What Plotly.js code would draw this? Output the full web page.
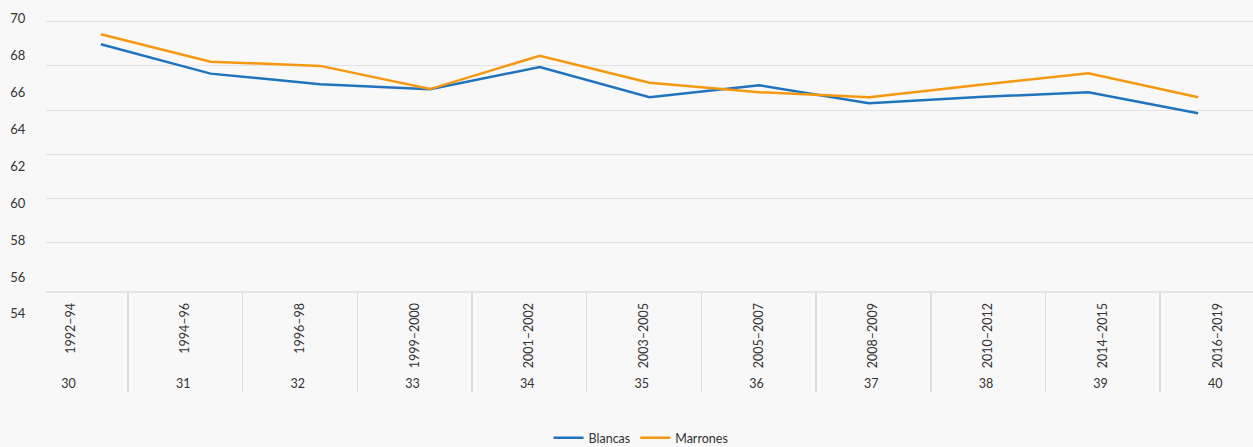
<!DOCTYPE html>
<html>
<head>
<meta charset="utf-8">
<script src="https://cdn.plot.ly/plotly-3.0.1.min.js"></script>
<style>
  html, body { margin: 0; padding: 0; background: #f8f8f8; }
  #chart { width: 1253px; height: 447px; }
</style>
</head>
<body>
<div id="chart"></div>
<script>
// Categories (inner level: periods, outer level: codes)
const periods = ['1992–94', '1994–96', '1996–98', '1999–2000', '2001–2002', '2003–2005', '2005–2007', '2008–2009', '2010–2012', '2014–2015', '2016–2019'];
const codes = ['30', '31', '32', '33', '34', '35', '36', '37', '38', '39', '40'];

// Series values
const blancas = [68.98, 67.65, 67.17, 66.94, 67.95, 66.58, 67.12, 66.31, 66.59, 66.81, 65.86];
const marrones = [69.43, 68.19, 68.00, 66.95, 68.46, 67.24, 66.81, 66.58, 67.14, 67.67, 66.58];

// Y tick labels
const yTickLabels = [54, 56, 58, 60, 62, 64, 66, 68, 70];
const gridVals = [60, 62, 64, 66, 68, 70];

const FONT = 'Lato, "Open Sans", sans-serif';
const TEXT = '#333333';
const BG = '#f8f8f8';

const traces = [
  {
    type: 'scatter', mode: 'lines', name: 'Blancas',
    x: periods, y: blancas, xaxis: 'x', yaxis: 'y',
    line: { color: '#1f74bd', width: 2.5 }, hoverinfo: 'x+y+name'
  },
  {
    type: 'scatter', mode: 'lines', name: 'Marrones',
    x: periods, y: marrones, xaxis: 'x', yaxis: 'y',
    line: { color: '#f5980f', width: 2.5 }, hoverinfo: 'x+y+name'
  },
  {
    // carrier for the two-level category axis
    type: 'scatter', mode: 'lines', name: 'cat', showlegend: false,
    x: [codes, periods], y: blancas, xaxis: 'x2', yaxis: 'y',
    line: { width: 0, color: 'rgba(0,0,0,0)' }, opacity: 0, hoverinfo: 'skip'
  },
  {
    // carrier for the label y axis
    type: 'scatter', mode: 'lines', name: 'ylab', showlegend: false,
    x: periods, y: blancas, xaxis: 'x', yaxis: 'y2',
    line: { width: 0, color: 'rgba(0,0,0,0)' }, opacity: 0, hoverinfo: 'skip'
  }
];

const layout = {
  width: 1253, height: 447,
  paper_bgcolor: BG, plot_bgcolor: 'rgba(0,0,0,0)',
  margin: { l: 46, r: 0, t: 0, b: 47, autoexpand: false },
  font: { family: FONT, size: 13, color: TEXT },
  showlegend: true,
  legend: {
    orientation: 'h', x: 0.493, xanchor: 'center', y: -0.095, yanchor: 'middle',
    font: { family: FONT, size: 12.5, color: TEXT }, bgcolor: 'rgba(0,0,0,0)'
  },
  xaxis: {
    type: 'category', domain: [0, 1], anchor: 'y', range: [-0.5, 10.5],
    showticklabels: false, showgrid: false, zeroline: false, showline: false, ticks: ''
  },
  xaxis2: {
    type: 'multicategory', overlaying: 'x', anchor: 'y', side: 'bottom',
    range: [-0.215, 10.31],
    showdividers: true, dividercolor: '#dcdcdc', dividerwidth: 1.5,
    showline: true, linecolor: '#e4e4e4', linewidth: 2,
    showgrid: false, zeroline: false, ticks: '',
    ticklabelstandoff: 5,
    tickangle: -90,
    tickfont: { family: FONT, size: 12.5, color: TEXT }
  },
  yaxis: {
    domain: [0.2725, 0.9485], range: [57.81, 70.05], anchor: 'x',
    tickmode: 'array', tickvals: gridVals,
    showticklabels: false, showgrid: true, gridcolor: '#e2e2e2', gridwidth: 1,
    zeroline: false, showline: false, ticks: ''
  },
  yaxis2: {
    domain: [0.2, 0.9875], range: [53.67, 70.72], anchor: 'x', side: 'left',
    tickmode: 'array', tickvals: yTickLabels, ticktext: yTickLabels.map(String),
    showticklabels: true, showgrid: false, zeroline: false, showline: false,
    ticks: 'outside', ticklen: 17, tickcolor: 'rgba(0,0,0,0)',
    tickfont: { family: FONT, size: 13, color: TEXT }
  },
  yaxis3: {
    domain: [0.0175, 0.2725], range: [0, 1], anchor: 'x',
    showticklabels: false, showgrid: false, zeroline: false,
    showline: true, linecolor: '#dcdcdc', linewidth: 1.5, ticks: ''
  }
};

Plotly.newPlot('chart', traces, layout, { displayModeBar: false, staticPlot: true });
</script>
</body>
</html>
